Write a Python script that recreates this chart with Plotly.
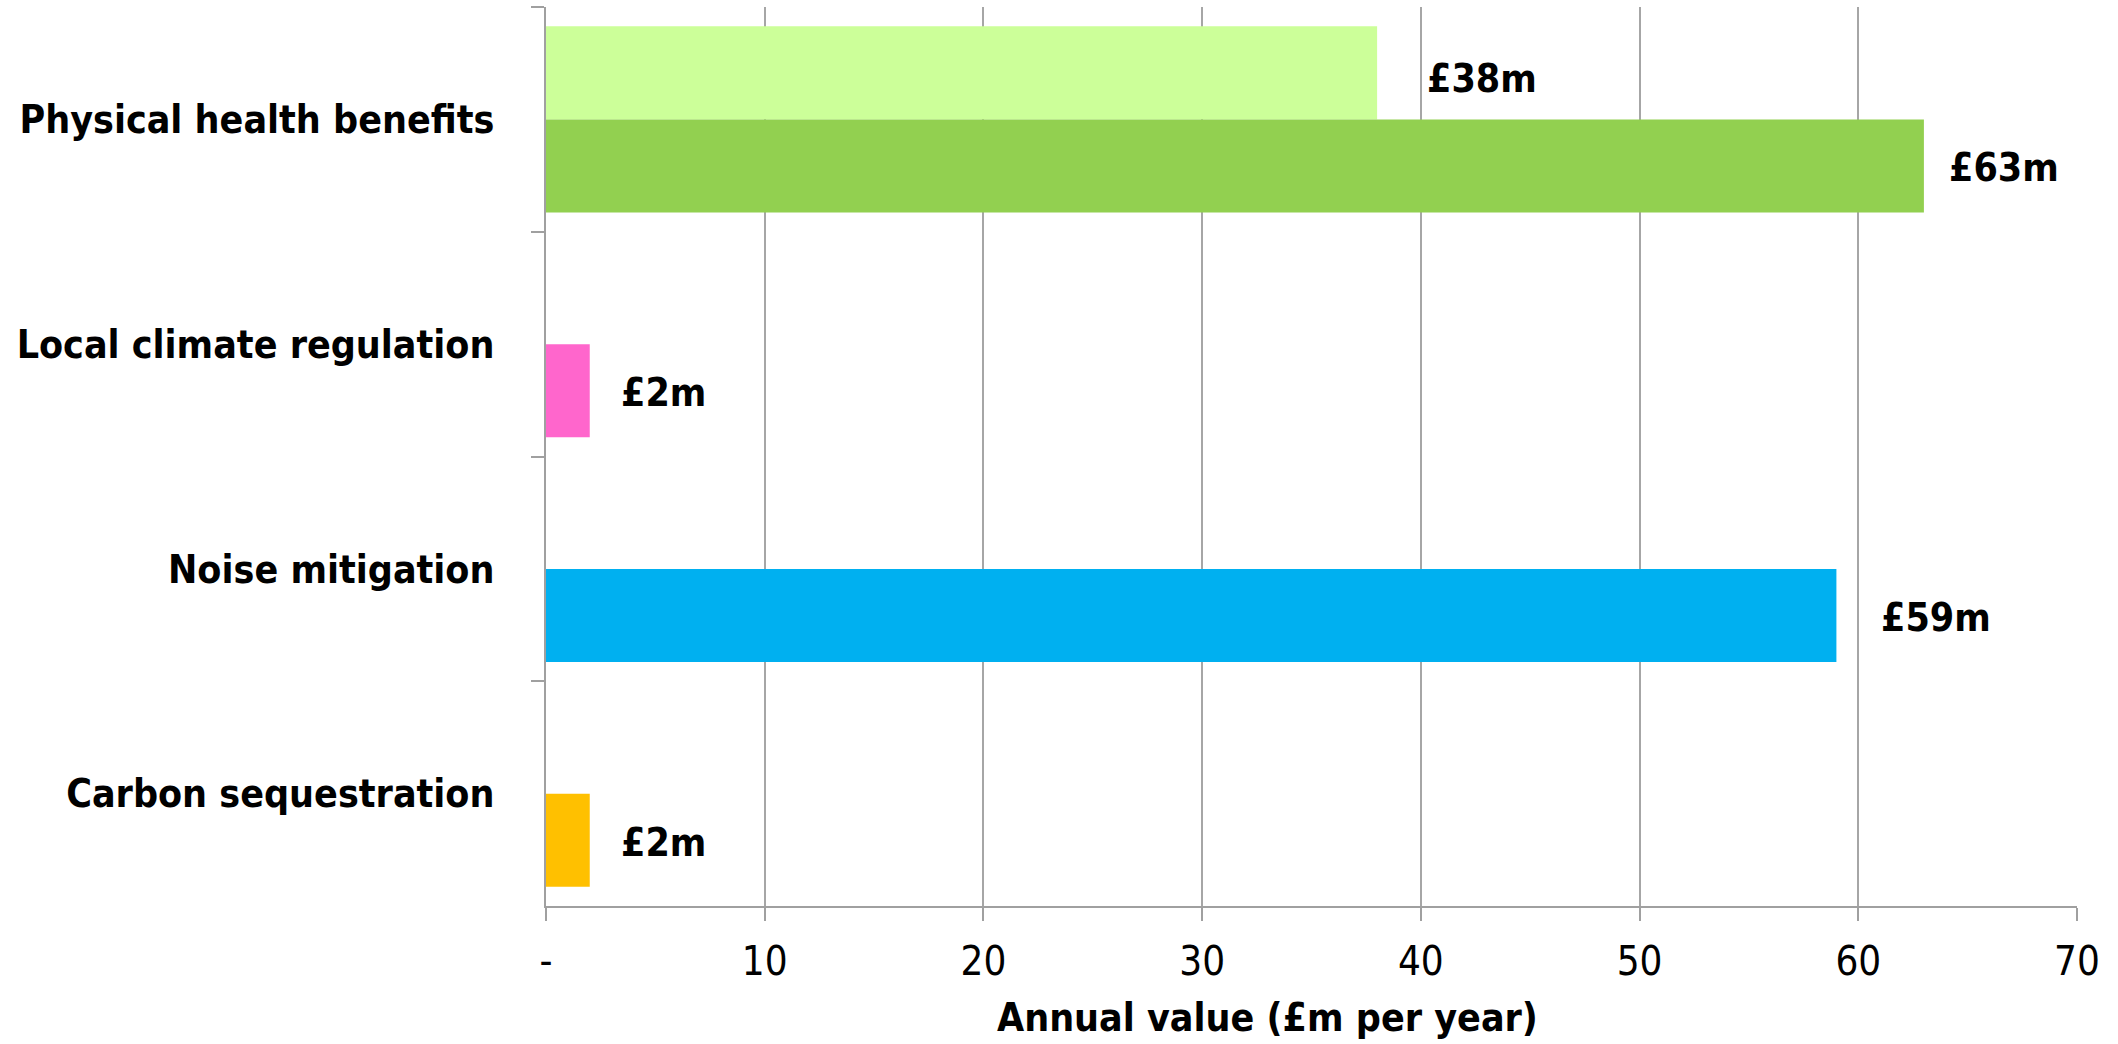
import plotly.graph_objects as go

# ---- data ----
categories = ["Physical health benefits", "Local climate regulation",
              "Noise mitigation", "Carbon sequestration"]
series_a = [38, None, None, None]          # upper bar (light green)
series_b = [63, 2, 59, 2]                  # lower bar
colors_a = ["#CCFF99", "#CCFF99", "#CCFF99", "#CCFF99"]
colors_b = ["#92D050", "#FF66CC", "#00B0F0", "#FFC000"]
tick_vals = [0, 10, 20, 30, 40, 50, 60, 70]
tick_text = ["-", "10", "20", "30", "40", "50", "60", "70"]
x_title = "Annual value (£m per year)"

# label horizontal offsets (px) as placed in the original chart
label_shift_a = [48, 0, 0, 0]
label_shift_b = [23, 29, 43, 29]

FONT = "DejaVu Sans Condensed, DejaVu Sans, sans-serif"
BARGAP = 0.172
slot = (1 - BARGAP) / 4.0  # half of one bar width, in category units

W, H = 2118, 1044
plot_left, plot_right = 546, 2077
plot_top, plot_bottom = 7, 906
title_y_px = 1018

fig = go.Figure()
fig.add_trace(go.Bar(y=categories, x=series_a, orientation="h",
                     marker=dict(color=colors_a, line=dict(width=0)),
                     hoverinfo="x"))
fig.add_trace(go.Bar(y=categories, x=series_b, orientation="h",
                     marker=dict(color=colors_b, line=dict(width=0)),
                     hoverinfo="x"))

annotations = []
for i, (va, vb) in enumerate(zip(series_a, series_b)):
    if va is not None:
        annotations.append(dict(x=va, y=i - slot, xref="x", yref="y",
                                text=f"<b>£{va}m</b>", showarrow=False,
                                xanchor="left", yanchor="middle",
                                xshift=label_shift_a[i], yshift=-6,
                                font=dict(family=FONT, size=39, color="black")))
    if vb is not None:
        annotations.append(dict(x=vb, y=i + slot, xref="x", yref="y",
                                text=f"<b>£{vb}m</b>", showarrow=False,
                                xanchor="left", yanchor="middle",
                                xshift=label_shift_b[i], yshift=-2,
                                font=dict(family=FONT, size=39, color="black")))

annotations.append(dict(x=0.471,
                        y=(plot_bottom - title_y_px) / (plot_bottom - plot_top),
                        xref="paper", yref="paper",
                        text=f"<b>{x_title}</b>", showarrow=False,
                        xanchor="center", yanchor="middle",
                        font=dict(family=FONT, size=39, color="black")))

fig.update_layout(
    width=W, height=H,
    margin=dict(l=plot_left, r=W - plot_right, t=plot_top, b=H - plot_bottom,
                pad=0),
    barmode="group", bargap=BARGAP, bargroupgap=0,
    plot_bgcolor="white", paper_bgcolor="white",
    showlegend=False,
    annotations=annotations,
    font=dict(family=FONT, color="black"),
)
fig.update_xaxes(range=[0, 70], tickvals=tick_vals, ticktext=tick_text,
                 showgrid=True, gridcolor="#A6A6A6", gridwidth=1.5,
                 showline=True, linecolor="#A0A0A0", linewidth=2,
                 ticks="outside", ticklen=13, tickcolor="#A0A0A0", tickwidth=1.5,
                 tickfont=dict(family=FONT, size=40, color="black"),
                 ticklabelstandoff=6, zeroline=False, fixedrange=True)
fig.update_yaxes(autorange="reversed", type="category",
                 tickson="boundaries", showgrid=False,
                 showline=True, linecolor="#A0A0A0", linewidth=1.5,
                 ticks="outside", ticklen=13, tickcolor="#A0A0A0", tickwidth=1.5,
                 tickfont=dict(family=FONT, size=39, color="black", weight="bold"),
                 ticklabelstandoff=42, fixedrange=True)

# remove the default page margin so the figure fills the window exactly
fig.write_html("out.html",
               config={"displayModeBar": False},
               post_script="document.body.style.margin='0';"
                           "document.body.style.overflow='hidden';")
